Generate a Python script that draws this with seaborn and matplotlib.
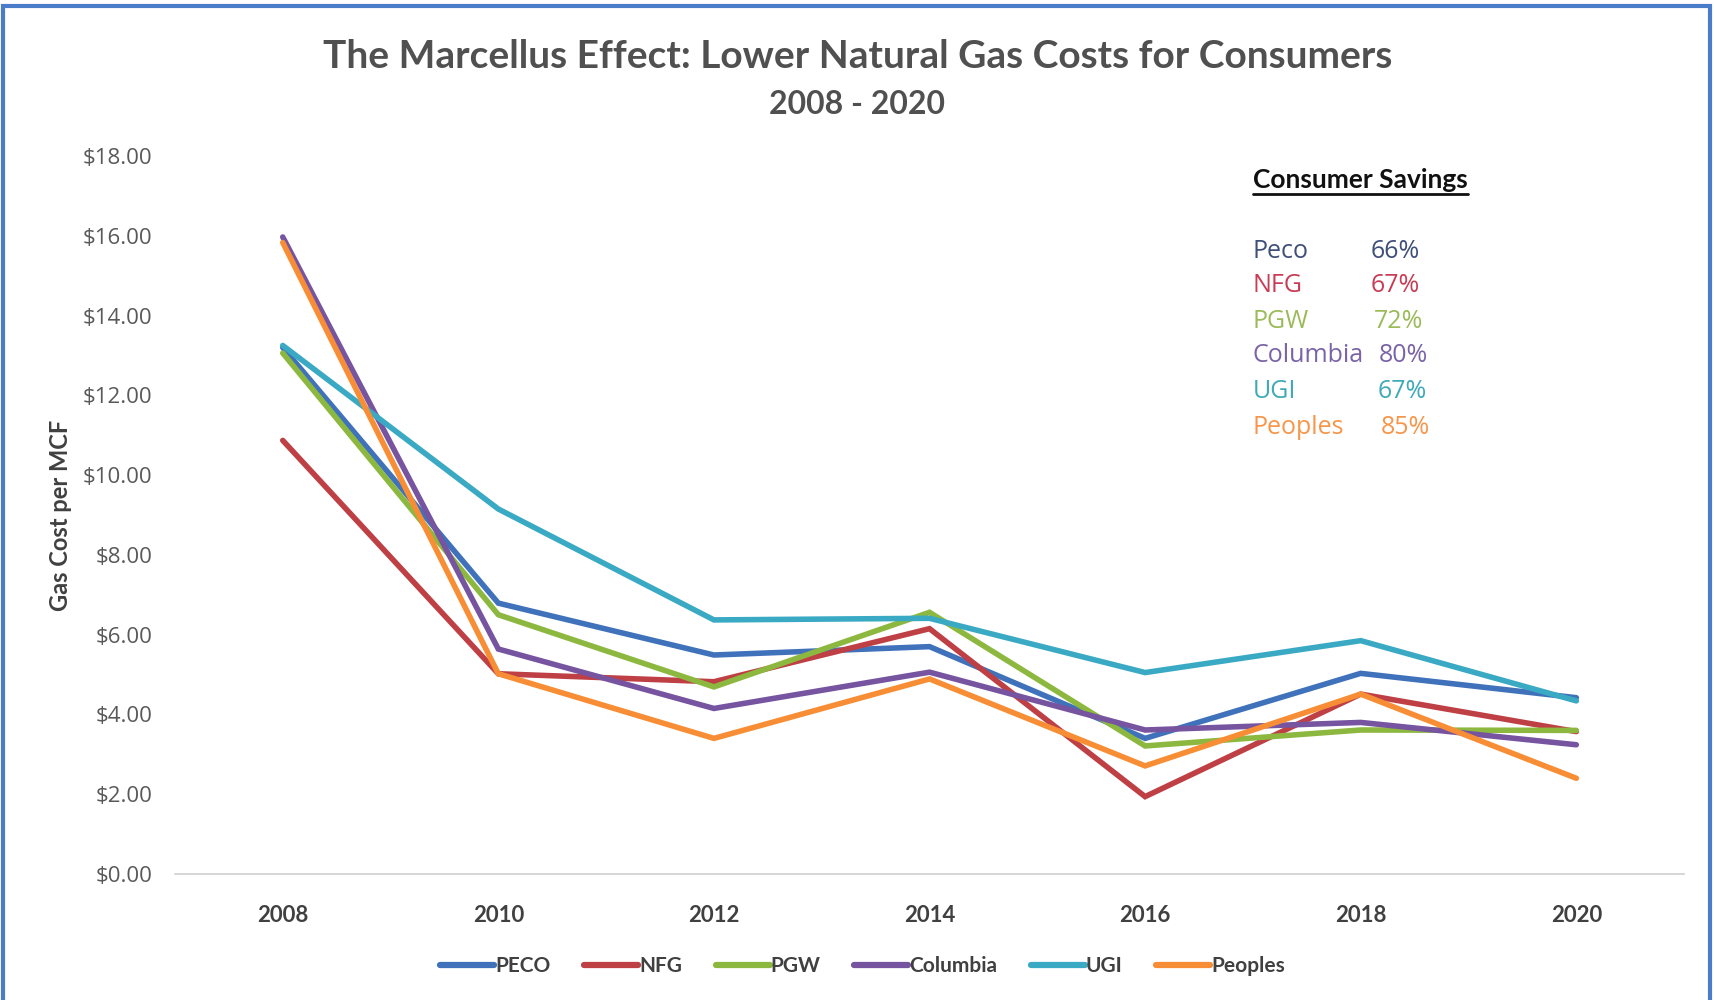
import matplotlib
matplotlib.use("Agg")
import matplotlib.pyplot as plt
import seaborn as sns
import pandas as pd
from matplotlib.patches import Rectangle

years = [2008, 2010, 2012, 2014, 2016, 2018, 2020]
peco = [13.20, 6.79, 5.49, 5.70, 3.40, 5.03, 4.42]
nfg = [10.87, 5.02, 4.82, 6.15, 1.94, 4.51, 3.57]
pgw = [13.06, 6.50, 4.69, 6.56, 3.21, 3.61, 3.60]
columbia = [15.97, 5.64, 4.15, 5.06, 3.61, 3.80, 3.24]
ugi = [13.25, 9.15, 6.37, 6.41, 5.05, 5.85, 4.34]
peoples = [15.83, 5.02, 3.40, 4.89, 2.71, 4.51, 2.40]

series_names = ["PECO", "NFG", "PGW", "Columbia", "UGI", "Peoples"]
series_values = [peco, nfg, pgw, columbia, ugi, peoples]
line_colors = ["#3F72BA", "#BE3F44", "#8DB83F", "#7654A0", "#3AAAC4", "#F78E35"]

savings_names = ["Peco", "NFG", "PGW", "Columbia", "UGI", "Peoples"]
savings_pct = ["66%", "67%", "72%", "80%", "67%", "85%"]
savings_colors = ["#3E4F78", "#C83C55", "#9BBB59", "#7A64A6", "#3FA9B8", "#F7964A"]

rows = []
for name, vals in zip(series_names, series_values):
    for y, v in zip(years, vals):
        rows.append({"Year": y, "Cost": v, "Company": name})
df = pd.DataFrame(rows)

sns.set_theme(style="white")
plt.rcParams["font.family"] = ["Lato", "DejaVu Sans"]

fig = plt.figure(figsize=(17.15, 10), dpi=100)
ax = fig.add_axes([0.102, 0.126, 0.880, 0.718])

sns.lineplot(data=df, x="Year", y="Cost", hue="Company", hue_order=series_names,
             palette=line_colors, linewidth=4, ax=ax, legend=False,
             solid_capstyle="round", solid_joinstyle="miter")

ax.set_xlim(2007, 2021)
ax.set_ylim(0, 18)
ax.set_xticks(years)
ax.set_xticklabels([str(y) for y in years], fontsize=16, fontweight="bold", color="#404040")
ax.set_yticks(range(0, 19, 2))
ax.set_yticklabels([f"${v:.2f}" for v in range(0, 19, 2)], fontsize=16, color="#595959",
                   family=["Open Sans", "DejaVu Sans"])
ax.tick_params(axis="x", length=0, pad=22)
ax.tick_params(axis="y", length=0, pad=16)
for s in ["top", "right", "left"]:
    ax.spines[s].set_visible(False)
ax.spines["bottom"].set_color("#D0D0D0")
ax.spines["bottom"].set_linewidth(1.2)
ax.set_xlabel("")
ax.set_ylabel("Gas Cost per MCF", fontsize=17, fontweight="bold", color="#404040")
ax.yaxis.set_label_coords(-0.068, 0.5)

fig.text(0.5, 0.943, "The Marcellus Effect: Lower Natural Gas Costs for Consumers",
         ha="center", va="center", fontsize=28, fontweight="bold", color="#505050")
fig.text(0.5, 0.896, "2008 - 2020", ha="center", va="center",
         fontsize=23, fontweight="bold", color="#505050")

# Consumer savings annotation
t = fig.text(0.7305, 0.820, "Consumer Savings", ha="left", va="center",
             fontsize=19, fontweight="bold", color="#111111")
fig.canvas.draw()
bb = t.get_window_extent()
fig.add_artist(plt.Line2D([bb.x0 / fig.bbox.width, bb.x1 / fig.bbox.width],
                          [bb.y0 / fig.bbox.height - 0.002] * 2,
                          color="#111111", linewidth=2, transform=fig.transFigure))

name_y = [0.749, 0.714, 0.679, 0.644, 0.609, 0.573]
pct_x = [0.799, 0.799, 0.801, 0.804, 0.803, 0.805]
for nm, pc, c, yy, px in zip(savings_names, savings_pct, savings_colors, name_y, pct_x):
    fig.text(0.7305, yy, nm, ha="left", va="center", fontsize=18, color=c,
             family=["Open Sans", "DejaVu Sans"])
    fig.text(px, yy, pc, ha="left", va="center", fontsize=18, color=c,
             family=["Open Sans", "DejaVu Sans"])

handles = [plt.Line2D([], [], color=c, linewidth=4.5, solid_capstyle="round") for c in line_colors]
leg = fig.legend(handles, series_names, loc="center", bbox_to_anchor=(0.503, 0.034), ncol=6,
                 frameon=False, fontsize=15, handlelength=2.6, handletextpad=0.05,
                 columnspacing=1.6)
for txt in leg.get_texts():
    txt.set_color("#404040")
    txt.set_fontweight("bold")

fig.add_artist(Rectangle((0.002, -0.01), 0.995, 1.004, transform=fig.transFigure,
                         fill=False, edgecolor="#4A7CC9", linewidth=3))

fig.savefig("out.png", dpi=100, facecolor="white")
